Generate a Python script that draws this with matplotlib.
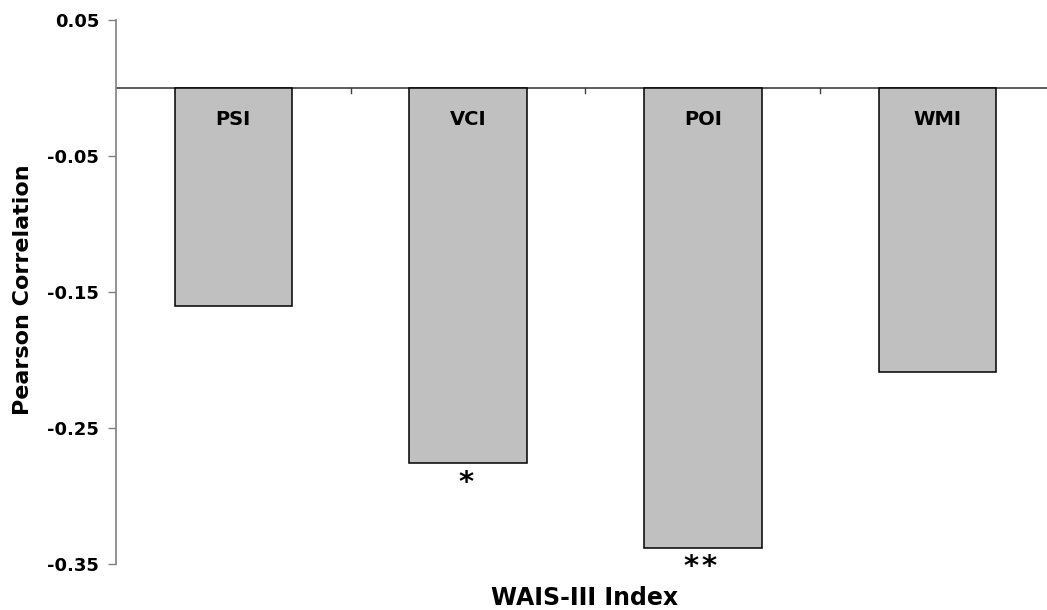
import matplotlib
matplotlib.use("Agg")
import matplotlib.pyplot as plt

# WAIS-III index correlations
categories = ["PSI", "VCI", "POI", "WMI"]
correlations = [-0.16, -0.276, -0.338, -0.209]
significance = ["", "*", "*\u200a*", ""]
y_ticks = [0.05, -0.05, -0.15, -0.25, -0.35]

plt.rcParams["font.family"] = ["DejaVu Sans"]
plt.rcParams["font.weight"] = "bold"

fig = plt.figure(figsize=(10.47, 6.10), dpi=100)
ax = fig.add_axes([116 / 1047, 1 - 564 / 610, (1047 - 116) / 1047, (564 - 20) / 610])

x = range(len(categories))
bars = ax.bar(x, correlations, width=0.5, color="#C0C0C0", edgecolor="black",
              linewidth=1.1, zorder=3)

for xi, name, val, sig in zip(x, categories, correlations, significance):
    ax.text(xi, -0.0228, name, ha="center", va="center", fontsize=14,
            fontweight="bold", zorder=4)
    if sig:
        ax.annotate(sig, xy=(xi, val), xytext=(-1.5, -4), textcoords="offset points",
                    ha="center", va="top", fontsize=21, fontweight="bold")

ax.set_ylim(-0.35, 0.05)
ax.set_xlim(-0.5, 3.5 - 8 / 235)
ax.set_yticks(y_ticks)
ax.set_yticklabels([f"{t:.2f}" for t in y_ticks], fontsize=13, fontweight="bold")
ax.tick_params(axis="y", direction="out", length=5.5, width=1, color="#808080", pad=6.5)

# category axis drawn along zero
ax.set_xticks([])
ax.axhline(0, color="#404040", linewidth=1.2, zorder=2)
for b in [0.5, 1.5, 2.5]:
    ax.plot([b, b], [0, -0.004], color="#404040", linewidth=1, zorder=2)

for side in ["top", "right", "bottom"]:
    ax.spines[side].set_visible(False)
ax.spines["left"].set_color("#808080")
ax.spines["left"].set_linewidth(1.2)

fig.text(23 / 1047, 1 - 290 / 610, "Pearson Correlation", rotation=90,
         ha="center", va="center", fontsize=16, fontweight="bold")
fig.text(585 / 1047, 1 - 598 / 610, "WAIS-III Index", ha="center", va="center",
         fontsize=17, fontweight="bold")

fig.savefig("out.png", dpi=100)
